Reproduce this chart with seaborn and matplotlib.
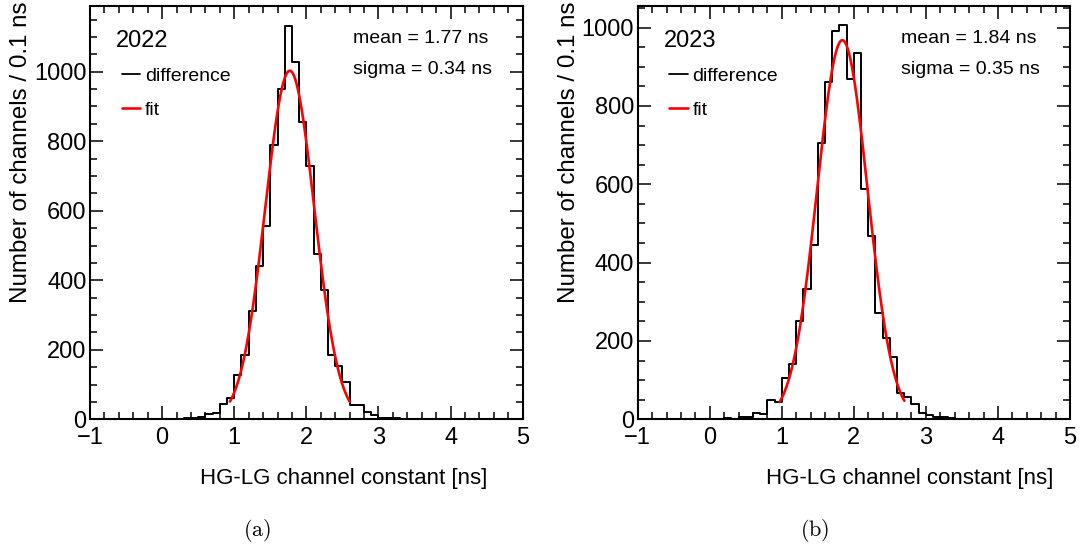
import numpy as np
import pandas as pd
import matplotlib
matplotlib.use("Agg")
import matplotlib.pyplot as plt
import seaborn as sns
from matplotlib.ticker import MultipleLocator
from matplotlib.lines import Line2D

# ---------------- data ----------------
x_min, x_max, bin_width = -1.0, 5.0, 0.1

counts_2022 = [0, 0, 0, 0, 0, 0, 0, 0, 0, 0,
               1, 1, 2, 3, 5, 6, 16, 19, 44, 60,
               128, 184, 313, 441, 556, 789, 950, 1133, 1028, 856,
               729, 476, 371, 185, 152, 107, 42, 42, 22, 13,
               4, 4, 3, 2, 2, 1, 1, 1, 0, 1,
               0, 0, 1, 0, 0, 0, 0, 0, 0, 0]

counts_2023 = [0, 0, 2, 0, 0, 0, 0, 0, 0, 0,
               0, 1, 3, 1, 5, 5, 16, 13, 49, 44,
               105, 141, 252, 333, 446, 705, 860, 992, 1006, 870,
               934, 589, 469, 272, 207, 159, 66, 58, 38, 17,
               11, 7, 5, 4, 2, 2, 1, 1, 1, 0,
               0, 1, 1, 0, 0, 0, 0, 1, 0, 0]

years = ["2022", "2023"]
fit_mean = [1.77, 1.84]
fit_sigma = [0.34, 0.35]
fit_amp = [1003, 968]
fit_range = [(0.94, 2.60), (0.97, 2.70)]
y_max = [1190, 1056]
panel_tags = ["(a)", "(b)"]

x_label = "HG-LG channel constant [ns]"
y_label = "Number of channels / 0.1 ns"

# ---------------- style ----------------
sns.set_theme(style="white")
plt.rcParams["font.family"] = ["Liberation Sans", "DejaVu Sans"]
plt.rcParams["mathtext.fontset"] = "cm"
plt.rcParams["axes.unicode_minus"] = True
for key in ["text.color", "axes.labelcolor", "xtick.color", "ytick.color",
            "xtick.labelcolor", "ytick.labelcolor", "axes.edgecolor"]:
    plt.rcParams[key] = "black"

fig = plt.figure(figsize=(10.8, 5.5), dpi=100)
W, H = 1080, 550
ax_pos = [(90, 522.7), (637.7, 1070)]
ax_top, ax_bot = 5.7, 419.3

edges = [round(x_min + k * bin_width, 6) for k in range(len(counts_2022) + 1)]
centers = [round(x_min + (k + 0.5) * bin_width, 6) for k in range(len(counts_2022))]

for i, counts in enumerate([counts_2022, counts_2023]):
    l, r = ax_pos[i]
    ax = fig.add_axes([l / W, 1 - ax_bot / H, (r - l) / W, (ax_bot - ax_top) / H])
    df = pd.DataFrame({"x": centers, "n": counts})
    sns.histplot(data=df, x="x", weights="n", bins=edges, element="step",
                 fill=False, color="black", linewidth=1.4, ax=ax)
    lo, hi = fit_range[i]
    xf = np.linspace(lo, hi, 300)
    yf = fit_amp[i] * np.exp(-0.5 * ((xf - fit_mean[i]) / fit_sigma[i]) ** 2)
    sns.lineplot(x=xf, y=yf, color="red", linewidth=1.9, ax=ax)

    ax.set_xlim(x_min, x_max)
    ax.set_ylim(0, y_max[i])
    ax.xaxis.set_major_locator(MultipleLocator(1))
    ax.xaxis.set_minor_locator(MultipleLocator(0.2))
    ax.yaxis.set_major_locator(MultipleLocator(200))
    ax.yaxis.set_minor_locator(MultipleLocator(50))
    ax.tick_params(which="both", direction="in", top=True, right=True,
                   left=True, bottom=True, width=1.1, colors="black",
                   labelsize=17)
    ax.tick_params(axis="x", which="both", pad=5.5)
    ax.tick_params(axis="y", which="both", pad=2.5)
    ax.tick_params(which="major", length=9.5)
    ax.tick_params(which="minor", length=4.8)
    for s in ax.spines.values():
        s.set_linewidth(1.5)
        s.set_color("black")

    ax.set_xlabel(x_label, fontsize=16, loc="right")
    ax.xaxis.set_label_coords((487.3 - 90) / 432.7 if i == 0 else (1053.3 - 637.7) / 432.3, -0.118)
    ax.set_ylabel(y_label, fontsize=17.4, loc="top")
    ax.yaxis.set_label_coords(-0.1345, 1.009)

    ax.text(0.060, 0.900, years[i], transform=ax.transAxes, fontsize=17,
            ha="left", va="baseline")
    ax.text(0.608, 0.909, f"mean = {fit_mean[i]:.2f} ns", transform=ax.transAxes,
            fontsize=14, ha="left", va="baseline")
    ax.text(0.608, 0.835, f"sigma = {fit_sigma[i]:.2f} ns", transform=ax.transAxes,
            fontsize=14, ha="left", va="baseline")

    handles = [Line2D([], [], color="black", lw=1.3),
               Line2D([], [], color="red", lw=1.9)]
    ax.legend(handles, ["difference", "fit"], loc="upper left",
              bbox_to_anchor=(0.073, 0.851), frameon=False, fontsize=14,
              handlelength=0.95, handletextpad=0.25, borderpad=0,
              borderaxespad=0, labelspacing=0.85)

    cx = 257 if i == 0 else 815
    fig.text(cx / W, 1 - 531 / H, r"$\mathrm{" + panel_tags[i] + "}$",
             fontsize=16, ha="center", va="center")

fig.savefig("out.png", dpi=100)
